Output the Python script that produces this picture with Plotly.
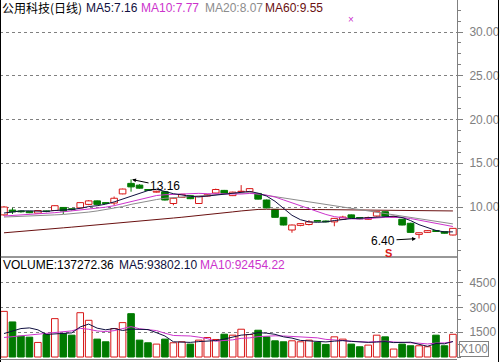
import plotly.graph_objects as go

# ---------------- data ----------------
opens = [9.1, 9.65, 9.55, 9.5, 9.3, 9.55, 9.6, 9.95, 9.8, 9.9, 10.3, 10.7, 10.5, 10.45, 11.5, 12.7, 12.5, 12.0, 11.7, 11.75,
         10.4, 11.1, 11.3, 10.4, 11.25, 11.6, 11.9, 11.3, 11.75, 11.75, 11.55, 10.8, 9.73, 8.82, 7.37, 7.9, 8.0, 8.45, 8.4, 8.3,
         8.6, 9.1, 8.8, 8.6, 8.97, 9.46, 8.85, 8.6, 8.14, 6.87, 7.1, 7.3, 7.18, 6.8]
highs = [10.1, 9.9, 9.6, 9.55, 9.65, 9.6, 10.2, 10.0, 9.85, 10.55, 10.8, 10.75, 10.55, 11.2, 12.1, 13.16, 12.6, 12.05, 11.85, 11.8,
         11.05, 11.5, 11.35, 11.25, 11.5, 12.1, 11.95, 11.75, 12.5, 12.15, 11.6, 10.85, 9.75, 8.85, 8.0, 8.15, 8.5, 8.5, 8.45, 8.75,
         9.0, 9.15, 8.85, 8.9, 9.5, 9.5, 8.95, 8.65, 8.2, 7.1, 7.35, 7.35, 7.2, 7.6]
lows = [9.0, 9.2, 9.35, 9.3, 9.25, 9.4, 9.55, 9.2, 9.6, 9.85, 10.2, 10.25, 10.35, 10.2, 11.45, 11.75, 12.1, 11.85, 11.65, 10.75,
        10.2, 11.05, 10.9, 10.35, 11.2, 11.55, 11.5, 11.25, 11.7, 11.7, 10.85, 9.85, 8.8, 7.9, 7.06, 7.8, 7.9, 8.35, 8.25, 7.8,
        8.55, 8.65, 8.6, 8.55, 8.9, 8.9, 8.8, 7.9, 7.05, 6.40, 7.05, 7.15, 6.95, 6.75]
closes = [10.0, 9.45, 9.45, 9.35, 9.6, 9.5, 10.15, 9.55, 9.7, 10.5, 10.7, 10.3, 10.4, 11.0, 12.05, 12.3, 12.15, 11.9, 11.8, 10.8,
          11.0, 11.45, 10.95, 11.2, 11.4, 12.0, 11.55, 11.7, 11.8, 12.1, 10.9, 9.9, 8.82, 7.94, 7.94, 8.1, 8.3, 8.38, 8.3, 8.7,
          8.85, 8.7, 8.65, 8.8, 9.46, 8.97, 8.92, 7.94, 7.1, 7.06, 7.3, 7.2, 7.0, 7.56]

ma5 = [9.31, 9.45, 9.55, 9.56, 9.57, 9.5, 9.6, 9.64, 9.71, 9.85, 10.05, 10.15, 10.32, 10.58, 10.89, 11.21, 11.58, 11.88, 12.03, 11.78,
       11.52, 11.38, 11.22, 11.15, 11.25, 11.4, 11.45, 11.57, 11.67, 11.78, 11.58, 11.25, 10.65, 9.85, 9.05, 8.55, 8.3, 8.25, 8.3, 8.45,
       8.6, 8.68, 8.72, 8.78, 8.88, 8.92, 8.95, 8.8, 8.45, 7.98, 7.62, 7.32, 7.15, 7.16]
ma10 = [8.97, 9.02, 9.07, 9.12, 9.2, 9.27, 9.35, 9.45, 9.55, 9.73, 9.8, 9.89, 9.98, 10.15, 10.39, 10.67, 10.87, 11.1, 11.31, 11.4,
        11.45, 11.5, 11.54, 11.56, 11.52, 11.5, 11.45, 11.45, 11.48, 11.55, 11.5, 11.35, 11.14, 10.81, 10.47, 10.1, 9.78, 9.45, 9.15, 8.9,
        8.75, 8.65, 8.62, 8.65, 8.75, 8.82, 8.85, 8.8, 8.68, 8.5, 8.3, 8.12, 7.95, 7.77]
ma20 = [8.85, 8.88, 8.9, 8.95, 8.98, 9.02, 9.1, 9.15, 9.22, 9.3, 9.42, 9.55, 9.7, 9.85, 10.05, 10.3, 10.5, 10.7, 10.85, 11.0,
        11.08, 11.15, 11.22, 11.3, 11.36, 11.42, 11.48, 11.55, 11.6, 11.62, 11.48, 11.33, 11.18, 11.03, 10.88, 10.74, 10.59, 10.44, 10.29, 10.14,
        9.99, 9.85, 9.7, 9.55, 9.4, 9.25, 9.1, 8.95, 8.81, 8.66, 8.51, 8.36, 8.21, 8.07]
ma60 = [7.05, 7.12, 7.2, 7.28, 7.37, 7.45, 7.53, 7.62, 7.7, 7.78, 7.87, 7.95, 8.03, 8.12, 8.2, 8.29, 8.38, 8.47, 8.56, 8.65,
        8.74, 8.83, 8.92, 9.02, 9.12, 9.22, 9.33, 9.44, 9.55, 9.65, 9.72, 9.74, 9.75, 9.75, 9.74, 9.73, 9.72, 9.71, 9.7, 9.69,
        9.68, 9.67, 9.66, 9.65, 9.64, 9.63, 9.62, 9.61, 9.6, 9.59, 9.58, 9.57, 9.56, 9.55]

# volume in units of x100
volume = [2760, 2120, 1260, 1200, 880, 1360, 2320, 1420, 1320, 2680, 2220, 1080, 920, 1720, 2080, 2620, 1020, 860, 780, 1080,
          860, 920, 780, 1020, 1180, 1060, 1380, 1320, 1680, 1360, 1620, 1220, 980, 920, 980, 920, 1020, 880, 760, 1220,
          1080, 780, 620, 720, 1320, 1220, 480, 780, 680, 680, 620, 1320, 680, 1372.7]
vol_ma5 = [1420, 1580, 1720, 1760, 1644, 1364, 1404, 1436, 1460, 1820, 1992, 1744, 1644, 1724, 1604, 1684, 1672, 1660, 1472, 1272,
           920, 900, 884, 932, 952, 992, 1084, 1192, 1324, 1360, 1472, 1440, 1372, 1220, 1144, 1004, 964, 944, 912, 960,
           992, 944, 892, 884, 904, 932, 872, 904, 896, 768, 648, 816, 796, 938]
vol_ma10 = [1180, 1230, 1280, 1320, 1370, 1420, 1480, 1530, 1580, 1732, 1678, 1574, 1540, 1592, 1712, 1838, 1708, 1652, 1598, 1438,
            1302, 1286, 1272, 1202, 1112, 956, 992, 1038, 1128, 1156, 1232, 1262, 1282, 1272, 1252, 1238, 1202, 1158, 1066, 1052,
            998, 954, 918, 898, 932, 962, 908, 898, 890, 836, 790, 844, 850, 925]

price_ticks = [10, 15, 20, 25, 30]
vol_ticks = [1500, 3000, 4500]

title_text = "公用科技(日线)"
ma_labels = ["MA5:7.16", "MA10:7.77", "MA20:8.07", "MA60:9.55"]
vol_labels = ["VOLUME:137272.36", "MA5:93802.10", "MA10:92454.22"]
high_label, high_idx = "13.16", 15
low_label, low_idx = "6.40", 49

# ---------------- styles ----------------
RED = "#d81818"
GREEN = "#007a00"
C_MA5 = "#101040"
C_MA10 = "#cc33cc"
C_MA20 = "#8c8c8c"
C_MA60 = "#6a1010"
GRAY = "#808080"
FONT = "Liberation Sans, Arial, sans-serif"
CJK = "Noto Sans CJK SC, Liberation Sans, sans-serif"

W, H = 500, 362
AXIS_X = 457
MAIN_BOTTOM = 258
VOL_BOTTOM = 358
BODY_W = 0.78
MIN_BODY = 0.04

def px(x):
    return x / W

def py(y):
    return 1 - y / H

n = len(closes)
idx = list(range(n))
up = [c >= o for o, c in zip(opens, closes)]
body_lo = [min(o, c) for o, c in zip(opens, closes)]
body_hi = [max(o, c) for o, c in zip(opens, closes)]
body_h = [max(h - l, MIN_BODY) for h, l in zip(body_hi, body_lo)]

fig = go.Figure()

# candle bodies (bars)
fig.add_trace(go.Bar(
    x=idx, y=body_h, base=body_lo, width=BODY_W,
    marker=dict(color=["white" if u else GREEN for u in up],
                line=dict(color=[RED if u else GREEN for u in up], width=1)),
    xaxis="x", yaxis="y", hoverinfo="skip", showlegend=False,
))

# wicks (upper and lower segments, not through the body)
for want_up, col in [(True, RED), (False, GREEN)]:
    wx, wy = [], []
    for i in idx:
        if up[i] != want_up:
            continue
        wx += [i, i, None, i, i, None]
        wy += [highs[i], body_hi[i], None, body_lo[i], lows[i], None]
    fig.add_trace(go.Scatter(x=wx, y=wy, mode="lines", line=dict(color=col, width=1),
                             xaxis="x", yaxis="y", hoverinfo="skip", showlegend=False))

for ser, col in [(ma60, C_MA60), (ma20, C_MA20), (ma10, C_MA10), (ma5, C_MA5)]:
    fig.add_trace(go.Scatter(x=idx, y=ser, mode="lines", line=dict(color=col, width=1),
                             xaxis="x", yaxis="y", hoverinfo="skip", showlegend=False))

fig.add_trace(go.Bar(
    x=idx, y=volume, width=BODY_W,
    marker=dict(color=["white" if u else GREEN for u in up],
                line=dict(color=[RED if u else GREEN for u in up], width=1)),
    xaxis="x", yaxis="y2", hoverinfo="skip", showlegend=False,
))
for ser, col in [(vol_ma10, C_MA10), (vol_ma5, C_MA5)]:
    fig.add_trace(go.Scatter(x=idx, y=ser, mode="lines", line=dict(color=col, width=1),
                             xaxis="x", yaxis="y2", hoverinfo="skip", showlegend=False))

x_lo = -4 / 8.47
x_hi = (AXIS_X - 4) / 8.47
main_top_p = 10 + 207 / 8.75
main_bot_p = 10 - (MAIN_BOTTOM - 207) / 8.75
vol_per_px = 1500 / 24.8
vol_lo = -(VOL_BOTTOM - 357) * vol_per_px
vol_hi = (357 - MAIN_BOTTOM) * vol_per_px

axis_common = dict(
    side="right", showline=True, linecolor=GRAY, linewidth=1,
    ticks="outside", ticklen=5, tickcolor=GRAY, tickwidth=1,
    tickfont=dict(family=FONT, size=12, color=GRAY),
    showgrid=True, gridcolor=GRAY, gridwidth=1, griddash="dot",
    zeroline=False, fixedrange=True, ticklabelstandoff=4,
)

fig.update_layout(
    width=W, height=H,
    margin=dict(l=0, r=0, t=0, b=0),
    paper_bgcolor="white", plot_bgcolor="white",
    barmode="overlay",
    showlegend=False,
    xaxis=dict(domain=[0, AXIS_X / W], range=[x_lo, x_hi], anchor="y2",
               showticklabels=False, ticks="", showgrid=False, zeroline=False,
               showline=False, fixedrange=True),
    yaxis=dict(domain=[py(MAIN_BOTTOM), 1], range=[main_bot_p, main_top_p], anchor="x",
               tickmode="array", tickvals=price_ticks, tickformat=".2f",
               minor=dict(dtick=1.25, tick0=0, ticks="outside", ticklen=3, tickcolor=GRAY, showgrid=False),
               **axis_common),
    yaxis2=dict(domain=[py(VOL_BOTTOM), py(MAIN_BOTTOM)], range=[vol_lo, vol_hi], anchor="x",
                tickmode="array", tickvals=vol_ticks, tickformat="d",
                minor=dict(dtick=750, tick0=0, ticks="outside", ticklen=3, tickcolor=GRAY, showgrid=False),
                **axis_common),
)

shapes = [
    dict(type="line", xref="paper", yref="paper", x0=px(0.5), x1=px(0.5), y0=0, y1=1,
         line=dict(color="black", width=1)),
    dict(type="line", xref="paper", yref="paper", x0=px(498.5), x1=px(498.5), y0=0, y1=1,
         line=dict(color="black", width=1)),
    dict(type="line", xref="paper", yref="paper", x0=0, x1=px(AXIS_X), y0=py(MAIN_BOTTOM - 1), y1=py(MAIN_BOTTOM - 1),
         line=dict(color="#303030", width=1)),
    dict(type="line", xref="paper", yref="paper", x0=0, x1=px(AXIS_X), y0=py(VOL_BOTTOM + 1.5), y1=py(VOL_BOTTOM + 1.5),
         line=dict(color=GRAY, width=1)),
]
fig.update_layout(shapes=shapes)

ann = []
def label(text, x, y, color, family=FONT, size=12):
    ann.append(dict(text=text, x=px(x), y=py(y), xref="paper", yref="paper",
                    xanchor="left", yanchor="middle", showarrow=False,
                    font=dict(family=family, size=size, color=color)))

label(title_text, 0, 8, "black", family=CJK, size=12)
for text, x, col in zip(ma_labels, [84, 139, 203, 263], [C_MA5, C_MA10, C_MA20, C_MA60]):
    label(text, x, 8, col)
for text, x, col in zip(vol_labels, [1, 117, 198], ["black", C_MA5, C_MA10]):
    label(text, x, 265, col)

# high / low markers
ann.append(dict(text=high_label, x=high_idx, y=highs[high_idx], xref="x", yref="y",
                showarrow=True, ax=34, ay=7, arrowhead=2, arrowsize=0.8, arrowwidth=1,
                arrowcolor="black", font=dict(family=FONT, size=12, color="black"), standoff=1))
ann.append(dict(text=low_label, x=low_idx, y=lows[low_idx], xref="x", yref="y",
                showarrow=True, ax=-36, ay=2, arrowhead=2, arrowsize=0.8, arrowwidth=1,
                arrowcolor="black", font=dict(family=FONT, size=12, color="black"), standoff=3))
ann.append(dict(text="<b>S</b>", x=px(388), y=py(253), xref="paper", yref="paper",
                xanchor="center", yanchor="middle", showarrow=False,
                font=dict(family=FONT, size=11, color=RED)))
ann.append(dict(text="×", x=px(351), y=py(19), xref="paper", yref="paper",
                xanchor="center", yanchor="middle", showarrow=False,
                font=dict(family=FONT, size=10, color=C_MA10)))
ann.append(dict(text="X100", x=px(459), y=py(349), xref="paper", yref="paper",
                xanchor="left", yanchor="middle", showarrow=False,
                bordercolor=GRAY, borderwidth=1, borderpad=0,
                font=dict(family=FONT, size=12, color=GRAY)))
fig.update_layout(annotations=ann)

fig.write_html("out.html")
